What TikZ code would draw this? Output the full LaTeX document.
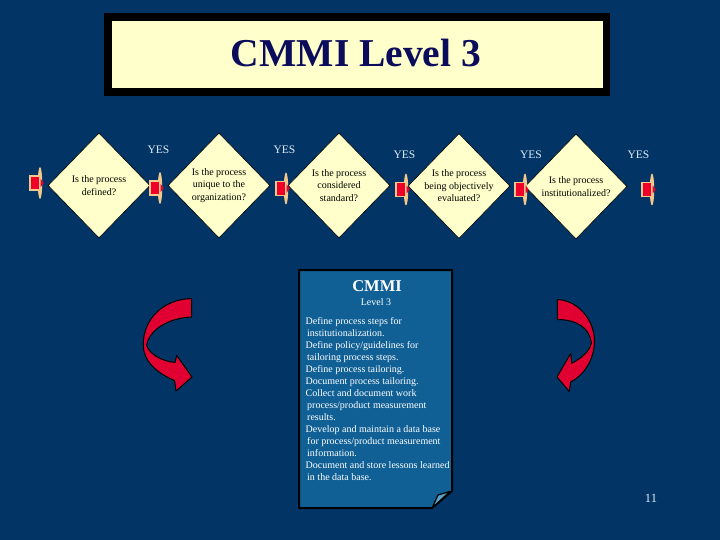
\documentclass[tikz,border=0pt]{standalone}
\usepackage{fontspec}
\setmainfont{Liberation Serif}
\usetikzlibrary{shapes.geometric,calc}
\definecolor{bgblue}{RGB}{3,52,102}
\definecolor{cream}{RGB}{255,255,204}
\definecolor{titlenavy}{RGB}{12,12,92}
\definecolor{docblue}{RGB}{16,96,150}
\definecolor{foldblue}{RGB}{90,160,195}
\definecolor{arrowred}{RGB}{225,0,50}
\definecolor{connred}{RGB}{240,0,40}
\definecolor{conntan}{RGB}{242,200,140}
\definecolor{yescol}{RGB}{220,235,248}
\tikzset{
  question/.style={diamond, fill=cream, draw=black, line width=0.6pt,
    minimum width=102pt, minimum height=105pt, inner sep=0pt, align=center,
    font=\fontsize{10}{12.5}\selectfont, text=black},
  yeslabel/.style={anchor=base, text=yescol, font=\fontsize{11.5}{13}\selectfont, inner sep=0pt},
  connbox/.style={rectangle, fill=connred, draw=conntan, line width=1.4pt,
    minimum width=10pt, minimum height=14pt, inner sep=0pt},
  redarrow/.style={fill=arrowred, draw=black, line width=1pt, line join=round},
  doctext/.style={text=white, inner sep=0pt}
}
\begin{document}
\begin{tikzpicture}[x=1pt,y=-1pt]
\fill[bgblue] (0,0) rectangle (720,540);
\useasboundingbox (0,0) rectangle (720,540);

% title
\fill[black] (104,13.5) rectangle (610,96);
\fill[cream] (112,21) rectangle (603,88);
\node[anchor=base, text=titlenavy, inner sep=0pt,
  font=\fontsize{39.5}{41}\selectfont\bfseries] (title) at (356,66.5) {CMMI Level 3};

% diamonds
\node[question] (d1) at (99,185.5) {Is the process\\defined?};
\node[question] (d2) at (219,185.5) {Is the process\\unique to the\\organization?};
\node[question] (d3) at (339,185.5) {Is the process\\considered\\standard?};
\node[question] (d4) at (459,186) {Is the process\\being objectively\\evaluated?};
\node[question] (d5) at (576,186.5) {Is the process\\institutionalized?};

% connectors
\foreach \n/\x/\y in {1/35/183, 2/155/188, 3/281/188.5, 4/401/189.5, 5/520/189.5, 6/647/189.5}{
  \fill[conntan] (\x+5,\y) ellipse [x radius=2.2pt, y radius=16pt];
  \node[connbox] (c\n) at (\x,\y) {};
  \fill[connred] ($(c\n.east)+(0,-4)$) -- ++(3,4) -- ++(-3,4) -- cycle;
}

% YES labels
\node[yeslabel] (y1) at (158.5,153.3) {YES};
\node[yeslabel] (y2) at (284.5,153.3) {YES};
\node[yeslabel] (y3) at (404.5,159) {YES};
\node[yeslabel] (y4) at (531,159) {YES};
\node[yeslabel] (y5) at (638.5,159) {YES};

% curved arrows
\path[redarrow] (191.5,298.5) .. controls (162,299.5) and (143,320) .. (143.3,345)
  .. controls (143.3,361) and (156.7,373) .. (174.5,380.5)
  -- (176,391) -- (192,377) -- (176.7,355.5) -- (175,362.5)
  .. controls (160,361) and (148.8,353) .. (146.5,345)
  .. controls (149,331) and (167,318) .. (191.5,317) -- cycle;
\path[redarrow] (557.3,299.5) .. controls (578.3,300.5) and (594.5,320) .. (594.5,341.7)
  .. controls (594,360) and (584,375) .. (570.7,382)
  -- (569.3,391.5) -- (557,377) -- (570.7,353.5) -- (571.7,363.3)
  .. controls (581.7,358) and (589,352) .. (591.3,343.3)
  .. controls (590,328) and (576.7,319.5) .. (557.3,319.5) -- cycle;

% document
\path[fill=docblue, draw=black, line width=2pt, line join=round]
  (299,270) -- (452,270) -- (452,491) -- (432,508) -- (299,508) -- cycle;
\path[fill=foldblue, draw=black, line width=1.2pt, line join=round]
  (432,508) -- (438,495) -- (450,491.5) -- cycle;
\node[doctext, anchor=base, font=\fontsize{16.5}{18}\selectfont\bfseries] (doctitle) at (377,291) {CMMI};
\node[doctext, anchor=base, font=\fontsize{10}{12}\selectfont] (doclevel) at (376,305) {Level 3};
\node[doctext, anchor=north west, align=left, font=\fontsize{10}{12}\selectfont] (docbody) at (305.5,317) {%
Define process steps for\\
\hspace{1.5pt}institutionalization.\\
Define policy/guidelines for\\
\hspace{1.5pt}tailoring process steps.\\
Define process tailoring.\\
Document process tailoring.\\
Collect and document work\\
\hspace{1.5pt}process/product measurement\\
\hspace{1.5pt}results.\\
Develop and maintain a data base\\
\hspace{1.5pt}for process/product measurement\\
\hspace{1.5pt}information.\\
Document and store lessons learned\\
\hspace{1.5pt}in the data base.};

% page number
\node[anchor=base, text=yescol, inner sep=0pt, font=\fontsize{12.5}{14}\selectfont] (pagenum) at (651,502) {11};
\end{tikzpicture}
\end{document}
